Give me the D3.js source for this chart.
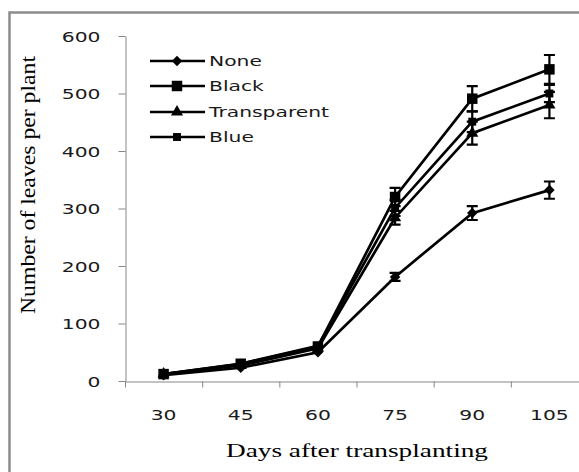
<!DOCTYPE html>
<html>
<head>
<meta charset="utf-8">
<script src="https://cdn.jsdelivr.net/npm/d3@7"></script>
<style>
  body { margin: 0; background: #fff; }
  svg { display: block; }
</style>
</head>
<body>
<div class="chart"></div>
<script>
// Days after transplanting (categories)
const days = ["30", "45", "60", "75", "90", "105"];
const yTicks = [0, 100, 200, 300, 400, 500, 600];

// mulch treatments: mean leaves per plant and error
const seriesNames = ["None", "Black", "Transparent", "Blue"];
const noneVals = [10, 23, 50, 181, 292, 332];
const noneErr = [0, 0, 0, 7, 12, 15];
const blackVals = [12, 30, 60, 320, 491, 542];
const blackErr = [0, 0, 0, 16, 22, 25];
const transVals = [12, 27, 57, 284, 431, 480];
const transErr = [0, 0, 0, 12, 20, 23];
const blueVals = [12, 30, 61, 301, 451, 500];
const blueErr = [0, 0, 0, 14, 18, 15];

const symbols = [
  { type: d3.symbolDiamond2, size: 70 },
  { type: d3.symbolSquare2, size: 140 },
  { type: d3.symbolTriangle2, size: 105 },
  { type: d3.symbolSquare2, size: 80 }
];

const series = [
  { name: seriesNames[0], vals: noneVals, err: noneErr, sym: symbols[0] },
  { name: seriesNames[1], vals: blackVals, err: blackErr, sym: symbols[1] },
  { name: seriesNames[2], vals: transVals, err: transErr, sym: symbols[2] },
  { name: seriesNames[3], vals: blueVals, err: blueErr, sym: symbols[3] }
];

const W = 579, H = 472;
const sx = 1.45; // picture is stretched sideways

const svg = d3.select("div.chart").append("svg")
  .attr("width", W)
  .attr("height", H);

// outer frame (cut off on the right and bottom)
svg.append("rect")
  .attr("x", 9.5).attr("y", 12.5)
  .attr("width", 640).attr("height", 520)
  .attr("fill", "none")
  .attr("stroke", "#8c8c8c")
  .attr("stroke-width", 2.5);

const x = d3.scaleBand().domain(days).range([125, 588]);
const xEdge = d3.scaleLinear().domain([0, days.length]).range([125, 588]);
const y = d3.scaleLinear().domain([0, 600]).range([381, 36]);

// y axis
const gy = svg.append("g")
  .attr("transform", "translate(125.5,0)")
  .call(d3.axisLeft(y).tickValues(yTicks).tickSize(7).tickSizeOuter(0));
gy.select(".domain").attr("stroke", "#868686");
gy.selectAll(".tick line").attr("stroke", "#868686");
gy.selectAll(".tick text")
  .attr("x", -25 / sx)
  .attr("dy", "0.36em")
  .attr("transform", `scale(${sx},1)`)
  .style("font-family", "DejaVu Sans")
  .style("font-size", "14px")
  .attr("fill", "#1a1a1a");

// x axis: ticks between categories
const gxTicks = svg.append("g")
  .attr("transform", "translate(0,381.5)")
  .call(d3.axisBottom(xEdge).tickValues(d3.range(days.length + 1)).tickFormat("").tickSize(6).tickSizeOuter(0));
gxTicks.select(".domain").attr("stroke", "#868686");
gxTicks.selectAll(".tick line").attr("stroke", "#868686");

// x axis labels
const gx = svg.append("g")
  .attr("transform", "translate(0,381.5)")
  .call(d3.axisBottom(x).tickSize(0));
gx.select(".domain").remove();
gx.selectAll(".tick text")
  .attr("y", 38.5)
  .attr("dy", 0)
  .attr("transform", `scale(${sx},1)`)
  .style("font-family", "DejaVu Sans")
  .style("font-size", "14px")
  .attr("fill", "#1a1a1a");

const line = d3.line()
  .x((d, i) => x(days[i]) + x.bandwidth() / 2)
  .y(d => y(d));

const plot = svg.append("g");

series.forEach(s => {
  plot.append("path")
    .datum(s.vals)
    .attr("d", line)
    .attr("fill", "none")
    .attr("stroke", "#000")
    .attr("stroke-width", 2.7);
});

series.forEach(s => {
  const g = plot.append("g");
  s.vals.forEach((v, i) => {
    const cx = x(days[i]) + x.bandwidth() / 2;
    const e = s.err[i];
    if (e > 0) {
      g.append("path")
        .attr("d", `M${cx},${y(v + e)}V${y(v - e)}M${cx - 5.5},${y(v + e)}H${cx + 5.5}M${cx - 5.5},${y(v - e)}H${cx + 5.5}`)
        .attr("stroke", "#000")
        .attr("stroke-width", 2.2)
        .attr("fill", "none");
    }
    g.append("path")
      .attr("d", d3.symbol(s.sym.type, s.sym.size)())
      .attr("transform", `translate(${cx},${y(v)})`)
      .attr("fill", "#000");
  });
});

// legend
const legendY = [61, 86, 112, 137];
const legend = svg.append("g");
series.forEach((s, i) => {
  const ly = legendY[i];
  legend.append("line")
    .attr("x1", 150).attr("x2", 205)
    .attr("y1", ly).attr("y2", ly)
    .attr("stroke", "#000")
    .attr("stroke-width", 2.7);
  legend.append("path")
    .attr("d", d3.symbol(s.sym.type, s.sym.size)())
    .attr("transform", `translate(177,${ly})`)
    .attr("fill", "#000");
  legend.append("text")
    .attr("x", 209 / sx)
    .attr("y", ly)
    .attr("dy", "0.36em")
    .attr("transform", `scale(${sx},1)`)
    .style("font-family", "DejaVu Sans")
    .style("font-size", "14px")
    .attr("fill", "#1a1a1a")
    .text(s.name);
});

// axis titles
svg.append("text")
  .attr("transform", "translate(35,185) rotate(-90)")
  .attr("text-anchor", "middle")
  .attr("textLength", 258)
  .attr("lengthAdjust", "spacingAndGlyphs")
  .style("font-family", "Liberation Serif")
  .style("font-size", "21px")
  .attr("fill", "#000")
  .text("Number of leaves per plant");

svg.append("text")
  .attr("x", 357)
  .attr("y", 457)
  .attr("text-anchor", "middle")
  .attr("textLength", 262)
  .attr("lengthAdjust", "spacingAndGlyphs")
  .style("font-family", "Liberation Serif")
  .style("font-size", "18px")
  .attr("fill", "#000")
  .text("Days after transplanting");
</script>
</body>
</html>
